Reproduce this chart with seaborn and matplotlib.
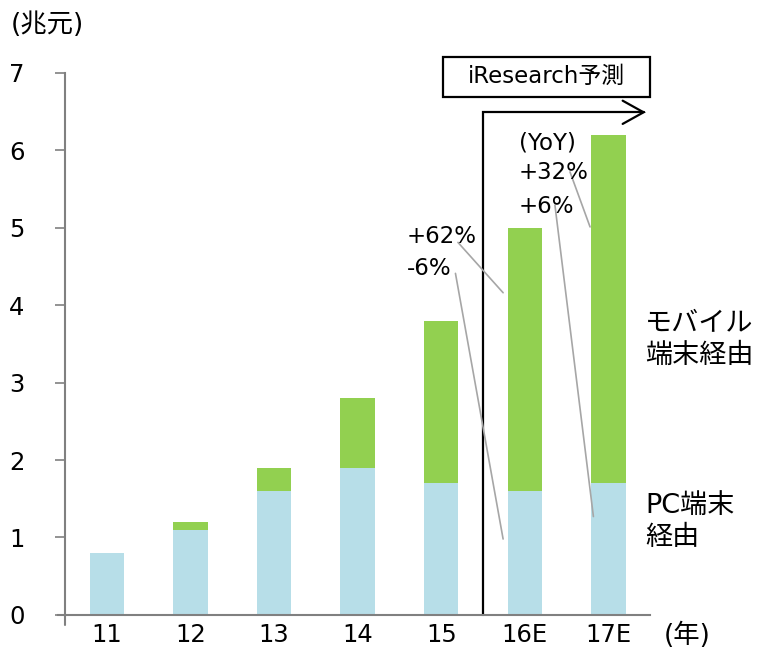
import matplotlib
matplotlib.use("Agg")
import matplotlib.pyplot as plt
import seaborn as sns
import pandas as pd

# Online market size by access device (trillion yuan)
years = ["11", "12", "13", "14", "15", "16E", "17E"]
pc = [0.8, 1.1, 1.6, 1.9, 1.7, 1.6, 1.7]
mobile = [0.0, 0.1, 0.3, 0.9, 2.1, 3.4, 4.5]
yticks = [0, 1, 2, 3, 4, 5, 6, 7]

GREEN = "#92D050"
BLUE = "#B7DEE8"
GRAY = "#A6A6A6"

sns.set_theme(style="white")
plt.rcParams["font.family"] = ["DejaVu Sans", "Noto Sans CJK JP"]
plt.rcParams["text.color"] = "black"
plt.rcParams["xtick.labelcolor"] = "black"
plt.rcParams["ytick.labelcolor"] = "black"

df = pd.DataFrame({"year": years, "pc": pc, "mobile": mobile})
df["total"] = df["pc"] + df["mobile"]

fig = plt.figure(figsize=(7.65, 6.5), dpi=100)
ax = fig.add_axes([0.085, 0.054, 0.765, 0.834])

sns.barplot(data=df, x="year", y="total", color=GREEN, width=0.41,
            saturation=1, linewidth=0, ax=ax)
sns.barplot(data=df, x="year", y="pc", color=BLUE, width=0.41,
            saturation=1, linewidth=0, ax=ax)

ax.set_xlim(-0.5, 6.5)
ax.set_ylim(0, 7)
ax.set_yticks(yticks)
ax.set_xlabel("")
ax.set_ylabel("")
ax.tick_params(axis="y", labelsize=17.5, length=7, width=1.2, color="#808080",
               direction="out", left=True, pad=22)
ax.tick_params(axis="x", labelsize=17.5, length=0, pad=6)
for side in ["top", "right"]:
    ax.spines[side].set_visible(False)
for side in ["left", "bottom"]:
    ax.spines[side].set_color("#808080")
    ax.spines[side].set_linewidth(1.5)
ax.spines["bottom"].set_bounds(-0.59, 6.5)

# small boundary tick under the left end of the category axis
ax.plot([-0.5, -0.5], [0, -0.13], color="#808080", lw=1.5, clip_on=False)

# forecast marker: vertical line, rightward arrow and caption box
ax.plot([4.5, 4.5, 6.42], [0, 6.49, 6.49], color="black", lw=1.6,
        clip_on=False, solid_joinstyle="miter")
ax.plot([6.17, 6.42, 6.17], [6.64, 6.49, 6.34], color="black", lw=1.6,
        clip_on=False, solid_joinstyle="miter")
ax.add_patch(plt.Rectangle((4.02, 6.69), 2.48, 0.52, fill=False,
                           edgecolor="black", lw=1.6, clip_on=False))
ax.text(5.26, 6.95, "iResearch予測", ha="center", va="center", fontsize=16.5)

# year-on-year growth labels with leader lines
fs = 16.5
ax.text(3.59, 4.88, "+62%", fontsize=fs, va="center")
ax.text(3.59, 4.47, "-6%", fontsize=fs, va="center")
ax.text(4.93, 6.09, "(YoY)", fontsize=fs, va="center")
ax.text(4.93, 5.71, "+32%", fontsize=fs, va="center")
ax.text(4.93, 5.28, "+6%", fontsize=fs, va="center")
ax.plot([4.2, 4.74], [4.81, 4.16], color=GRAY, lw=1.2)
ax.plot([4.17, 4.74], [4.41, 0.98], color=GRAY, lw=1.2)
ax.plot([5.54, 5.78], [5.72, 5.01], color=GRAY, lw=1.2)
ax.plot([5.36, 5.82], [5.29, 1.27], color=GRAY, lw=1.2)

# series labels on the right
ax.text(6.44, 3.55, "モバイル\n端末経由", fontsize=19.5, va="center",
        linespacing=1.3, clip_on=False)
ax.text(6.44, 1.2, "PC端末\n経由", fontsize=19.5, va="center",
        linespacing=1.3, clip_on=False)

fig.text(0.014, 0.962, "(兆元)", fontsize=19, va="center")
fig.text(0.868, 0.022, "(年)", fontsize=19, va="center")

fig.savefig("out.png", dpi=100)
